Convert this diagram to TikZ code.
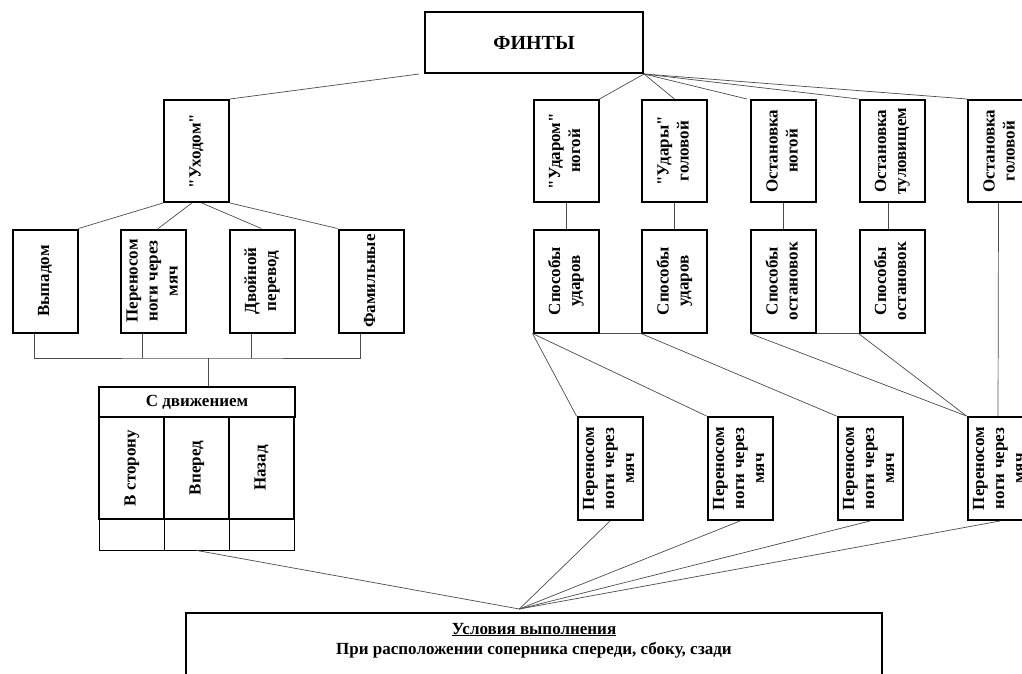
\documentclass[tikz,border=0pt]{standalone}
\usepackage{fontspec}
\setmainfont{Liberation Serif}
\usetikzlibrary{calc}

\tikzset{
  box/.style={draw, line width=2pt, inner sep=0pt, minimum width=65pt, minimum height=103pt,
              font=\fontsize{17}{20}\selectfont\bfseries, align=center},
  cell/.style={draw, line width=0.8pt, inner sep=0pt, minimum width=65pt, minimum height=31pt},
  link/.style={draw=black!70, line width=0.7pt},
}
% vertical label, reading bottom to top
\newcommand{\vlabel}[1]{\rotatebox{90}{\begin{tabular}{@{}c@{}}#1\end{tabular}}}
% straight double quote, set as a glyph so no text mapping curls it
\newcommand{\sq}{\XeTeXglyph\XeTeXcharglyph"22\relax}

\begin{document}
\begin{tikzpicture}[x=1pt, y=-1pt]
\useasboundingbox[fill=white] (0,0) rectangle (1022,673);

% root
\node[box, minimum width=218pt, minimum height=61pt, font=\fontsize{20}{24}\selectfont\bfseries] (finty) at (534,42.5) {ФИНТЫ};

% left branch
\node[box, minimum height=102pt] (ukhod) at (196.5,151) {\vlabel{\sq Уходом\sq}};
\node[box] (vyp)  at (45,281)    {\vlabel{Выпадом}};
\node[box] (per)  at (153.5,281) {\vlabel{Переносом\\ноги через\\мяч}};
\node[box] (dvoi) at (262,281)   {\vlabel{Двойной\\перевод}};
\node[box] (fam)  at (371,281)   {\vlabel{Фамильные}};

% table "С движением"
\node[box, minimum width=196pt, minimum height=30pt] (hdr) at (197,402) {С движением};
\node[box, minimum height=102pt] (side) at (131.5,468) {\vlabel{В сторону}};
\node[box, minimum height=102pt] (fwd)  at (196.5,468) {\vlabel{Вперед}};
\node[box, minimum height=102pt] (back) at (261.5,468) {\vlabel{Назад}};
\node[cell] (sideb) at (131.5,534.5) {};
\node[cell] (fwdb)  at (196.5,534.5) {};
\node[cell] (backb) at (261.5,534.5) {};

% right branch, top row
\node[box, minimum height=102pt] (ud1) at (566,151)    {\vlabel{\sq Ударом\sq\\ногой}};
\node[box, minimum height=102pt] (ud2) at (674.5,151)  {\vlabel{\sq Удары\sq\\головой}};
\node[box, minimum height=102pt] (on)  at (783.5,151)  {\vlabel{Остановка\\ногой}};
\node[box, minimum height=102pt] (ot)  at (892,151)    {\vlabel{Остановка\\туловищем}};
\node[box, minimum height=102pt] (og)  at (1000.5,151) {\vlabel{Остановка\\головой}};

% right branch, ways
\node[box] (sp1) at (566,281)   {\vlabel{Способы\\ударов}};
\node[box] (sp2) at (674.5,281) {\vlabel{Способы\\ударов}};
\node[box] (sp3) at (783.5,281) {\vlabel{Способы\\остановок}};
\node[box] (sp4) at (892,281)   {\vlabel{Способы\\остановок}};

% right branch, lower row
\node[box] (pn1) at (610,468.5)  {\vlabel{Переносом\\ноги через\\мяч}};
\node[box] (pn2) at (740,468.5)  {\vlabel{Переносом\\ноги через\\мяч}};
\node[box] (pn3) at (870,468.5)  {\vlabel{Переносом\\ноги через\\мяч}};
\node[box] (pn4) at (1000,468.5) {\vlabel{Переносом\\ноги через\\мяч}};

% conditions
\node[draw, line width=2pt, anchor=north, minimum width=696pt, inner sep=0pt, align=center,
      font=\fontsize{17}{20}\selectfont\bfseries] (cond) at (534,612)
  {\rule{0pt}{21pt}\underline{Условия выполнения}\\При расположении соперника спереди, сбоку, сзади\\[40pt]\rule{0pt}{0pt}};
\coordinate (meet) at ($(cond.north west)!0.479!(cond.north east)+(0,-3)$);

% links of the left branch
\draw[link] ([xshift=-5pt]finty.south west) -- (ukhod.north east);
\draw[link] (ukhod.south west) -- (vyp.north east);
\draw[link] ($(ukhod.south west)!0.43!(ukhod.south east)$) -- ($(per.north west)!0.57!(per.north east)$);
\draw[link] ($(ukhod.south west)!0.58!(ukhod.south east)$) -- ($(dvoi.north west)!0.49!(dvoi.north east)$);
\draw[link] (ukhod.south east) -- (fam.north west);
\coordinate (bus) at ($(hdr.north)+(11,-28)$);
\draw[link, line width=0.9pt] ([xshift=-11pt]vyp.south) |- (bus) -| ([xshift=-11pt]fam.south);
\draw[link, line width=0.9pt] ([xshift=-11pt]per.south) -- ([xshift=-11pt]per.south |- bus);
\draw[link, line width=0.9pt] ([xshift=-11pt]dvoi.south) -- ([xshift=-11pt]dvoi.south |- bus);
\draw[link, line width=0.9pt] (bus) -- (bus |- hdr.north);
\draw[link] (fwdb.south) -- (meet);

% links of the right branch
\draw[link] (finty.south east) -- (ud1.north east);
\draw[link] (finty.south east) -- (ud2.north);
\draw[link] (finty.south east) -- ([xshift=-3pt]on.north west);
\draw[link] (finty.south east) -- (ot.north west);
\draw[link] (finty.south east) -- (og.north west);
\draw[link] (ud1.south) -- (sp1.north);
\draw[link] (ud2.south) -- (sp2.north);
\draw[link] (on.south) -- (sp3.north);
\draw[link] ([xshift=-4pt]ot.south) -- ([xshift=-4pt]sp4.north);
\draw[link] (sp1.south east) -- (sp2.south west);
\draw[link] (sp3.south east) -- (sp4.south west);
\draw[link] (sp1.south west) -- (pn1.north west);
\draw[link] (sp1.south west) -- (pn2.north west);
\draw[link] (sp2.south west) -- (pn3.north west);
\draw[link] (sp3.south west) -- (pn4.north west);
\draw[link] (sp4.south west) -- (pn4.north west);
\draw[link] ([xshift=-2pt]og.south) -- ([xshift=-2pt]pn4.north);
\foreach \n in {pn1,pn2,pn3,pn4} \draw[link] (\n.south) -- (meet);
\end{tikzpicture}
\end{document}
